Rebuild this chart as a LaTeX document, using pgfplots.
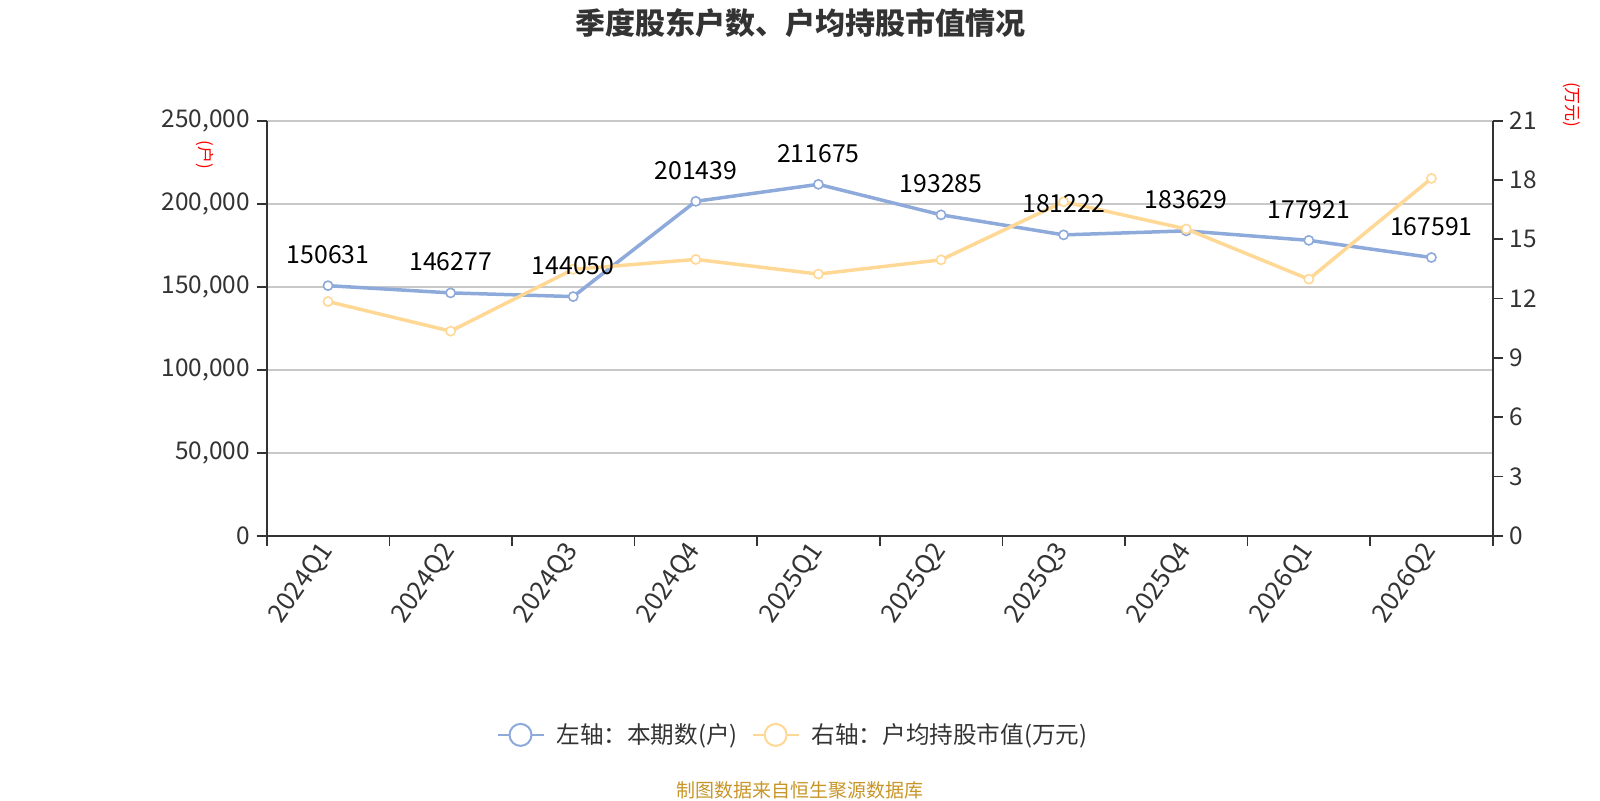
\documentclass[border=0pt]{standalone}
\usepackage{pgfplots}
\pgfplotsset{compat=1.18}
\usepackage{fontspec}
\setmainfont{Noto Sans CJK SC}
\definecolor{blueC}{RGB}{142,170,218}
\definecolor{orangeC}{RGB}{255,216,150}
\definecolor{axisC}{RGB}{51,51,51}
\definecolor{gridC}{RGB}{200,200,200}
\definecolor{srcC}{RGB}{200,150,40}
\pgfplotsset{
 base/.style={
  width=613pt, height=207.5pt, scale only axis,
  at={(133.35pt,132.15pt)}, anchor=south west,
  xmin=-0.5, xmax=9.5,
  clip=false,
  /pgf/number format/assume math mode=true,
 }
}
\begin{document}
\begin{tikzpicture}
% left axis, grid, blue line, legend
\begin{axis}[base,
 ymin=0, ymax=250000,
 axis x line*=bottom, axis y line*=left,
 axis line style={axisC, line width=0.8pt, -},
 ytick={0,50000,100000,150000,200000,250000},
 scaled y ticks=false,
 yticklabel={\pgfmathprintnumber[fixed,precision=0,1000 sep={,},assume math mode=true]{\tick}},
 xtick={-0.5,0.5,1.5,2.5,3.5,4.5,5.5,6.5,7.5,8.5,9.5},
 x tick label as interval,
 xticklabels={2024Q1,2024Q2,2024Q3,2024Q4,2025Q1,2025Q2,2025Q3,2025Q4,2026Q1,2026Q2},
 tick align=outside, major tick length=5pt,
 tick style={axisC, line width=0.8pt},
 ymajorgrids, grid style={gridC, line width=0.8pt},
 xticklabel style={rotate=55, anchor=east, xshift=3pt, font=\fontsize{12.8}{12.8}\selectfont, text=axisC},
 yticklabel style={font=\fontsize{12.2}{12.2}\selectfont, text=axisC},
 legend style={at={(0.43,-0.48)}, anchor=center, draw=none, fill=none,
   legend columns=-1, font=\fontsize{11.8}{11.8}\selectfont, text=axisC,
   /tikz/every odd column/.append style={column sep=4pt},
   /tikz/every even column/.append style={column sep=5pt}},
]
\addlegendimage{legend image code/.code={\draw[blueC,line width=1pt](0pt,0pt)--(23pt,0pt); \draw[blueC,fill=white,line width=1pt](11.5pt,0pt) circle (5.5pt);}}
\addlegendentry{左轴：本期数(户)}
\addlegendimage{legend image code/.code={\draw[orangeC,line width=1pt](0pt,0pt)--(23pt,0pt); \draw[orangeC,fill=white,line width=1pt](11.5pt,0pt) circle (5.5pt);}}
\addlegendentry{右轴：户均持股市值(万元)}
\addplot[forget plot, blueC, line width=1.75pt, mark=*, mark size=2.3pt, mark options={fill=white, draw=blueC, line width=0.8pt}]
 coordinates {(0,150631) (1,146277) (2,144050) (3,201439) (4,211675) (5,193285) (6,181222) (7,183629) (8,177921) (9,167591)};
\end{axis}
% right axis, orange line
\begin{axis}[base,
 ymin=0, ymax=21,
 axis x line=none, axis y line*=right,
 axis line style={axisC, line width=0.8pt, -},
 ytick={0,3,6,9,12,15,18,21},
 tick align=outside, major tick length=5pt,
 tick style={axisC, line width=0.8pt},
 yticklabel style={font=\fontsize{12.2}{12.2}\selectfont, text=axisC},
]
\addplot[forget plot, orangeC, line width=1.75pt, mark=*, mark size=2.3pt, mark options={fill=white, draw=orangeC, line width=0.8pt}]
 coordinates {(0,11.85) (1,10.35) (2,13.48) (3,13.98) (4,13.24) (5,13.96) (6,16.9) (7,15.52) (8,12.98) (9,18.08)};
\end{axis}
% labels for blue series on top
\begin{axis}[base, ymin=0, ymax=250000, hide axis]
\addplot[forget plot, draw=none, mark=none, nodes near coords, point meta=explicit symbolic,
 every node near coord/.append style={anchor=base, yshift=11pt, font=\fontsize{12.4}{12.4}\selectfont, text=black}]
 coordinates {(0,150631)[150631] (1,146277)[146277] (2,144050)[144050] (3,201439)[201439] (4,211675)[211675] (5,193285)[193285] (6,181222)[181222] (7,183629)[183629] (8,177921)[177921] (9,167591)[167591]};
\end{axis}
\node[font=\fontsize{15}{15}\selectfont\bfseries, text=axisC] at (400pt,388.5pt) {季度股东户数、户均持股市值情况};
\node[rotate=-90, text=red, font=\fontsize{8.5}{8.5}\selectfont] at (102.5pt,322.5pt) {(户)};
\node[rotate=-90, text=red, font=\fontsize{8.5}{8.5}\selectfont] at (786pt,347.5pt) {(万元)};
\node[text=srcC, font=\fontsize{9.5}{9.5}\selectfont] at (400pt,5pt) {制图数据来自恒生聚源数据库};
\pgfresetboundingbox
\path (0,0) rectangle (800pt,400pt);
\end{tikzpicture}
\end{document}
